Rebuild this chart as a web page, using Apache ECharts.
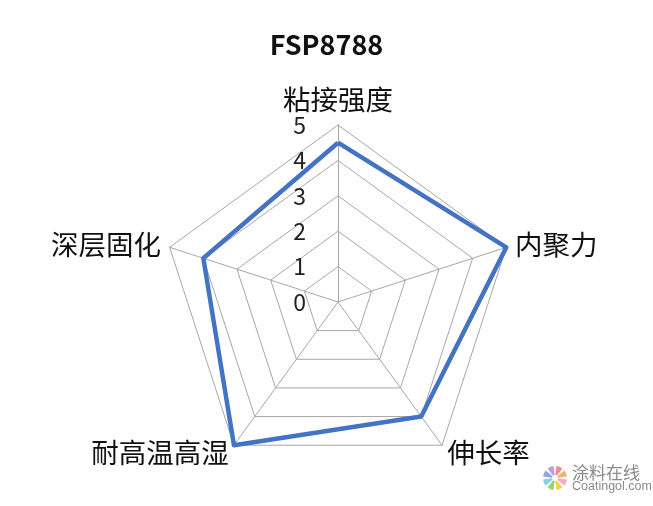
<!DOCTYPE html>
<html>
<head>
<meta charset="utf-8">
<script src="https://cdn.jsdelivr.net/npm/echarts@6/dist/echarts.min.js"></script>
<style>html,body{margin:0;padding:0;background:#fff}#c{width:653px;height:506px}</style>
</head>
<body>
<div id="c"></div>
<script>
var title = 'FSP8788';
// clockwise from top
var indicators = ['粘接强度', '内聚力', '伸长率', '耐高温高湿', '深层固化'];
var values = [4.5, 5, 4, 5, 4];
var maxValue = 5;

// ECharts radar runs counter-clockwise: keep first, reverse the rest
var order = [0];
for (var k = indicators.length - 1; k > 0; k--) order.push(k);

var chart = echarts.init(document.getElementById('c'));
var font = '"Noto Sans CJK SC", "Noto Sans", sans-serif';
var ind = order.map(function (i) {
  var o = { name: indicators[i], max: maxValue, min: 0 };
  if (i === 0) o.axisLabel = { show: true };
  return o;
});
var vals = order.map(function (i) { return values[i]; });
var petals = ['#f7a8c4', '#f5d44a', '#9ad26a', '#7fd3e6', '#8aa7e8', '#c39be3', '#f58a8a', '#f7b26a'];
var graphics = [
  { type: 'text', left: 572, top: 464, style: { text: '涂料在线', fontSize: 17, fill: '#8a8a8a', fontFamily: font } },
  { type: 'text', left: 572, top: 480, style: { text: 'Coatingol.com', fontSize: 12.5, fill: '#8a8a8a', fontFamily: 'Arial, sans-serif' } }
];
petals.forEach(function (c, i) {
  var a = i * Math.PI / 4;
  graphics.push({ type: 'sector', shape: { cx: 555, cy: 478, r0: 3, r: 12, startAngle: a + 0.12, endAngle: a + Math.PI / 4 - 0.12 }, style: { fill: c } });
});
chart.setOption({
  animation: false,
  title: {
    text: title, left: 'center', top: 26,
    textStyle: { fontSize: 27, fontWeight: 'bold', color: '#111', fontFamily: font }
  },
  radar: {
    center: [338, 302],
    radius: 177,
    shape: 'polygon',
    splitNumber: 5,
    startAngle: 90,
    indicator: ind,
    axisName: { color: '#111', fontSize: 27.5, fontFamily: font },
    nameGap: 9,
    axisLine: { lineStyle: { color: '#a6a6a6', width: 1 } },
    splitLine: { lineStyle: { color: '#a6a6a6', width: 1 } },
    splitArea: { show: false },
    axisTick: { show: false },
    axisLabel: { show: false, fontSize: 23, color: '#222', fontFamily: font, margin: 32 }
  },
  graphic: graphics,
  series: [{
    type: 'radar',
    symbol: 'none',
    lineStyle: { color: '#4472C4', width: 4.5 },
    data: [{ value: vals, name: title }]
  }]
});
</script>
</body>
</html>
